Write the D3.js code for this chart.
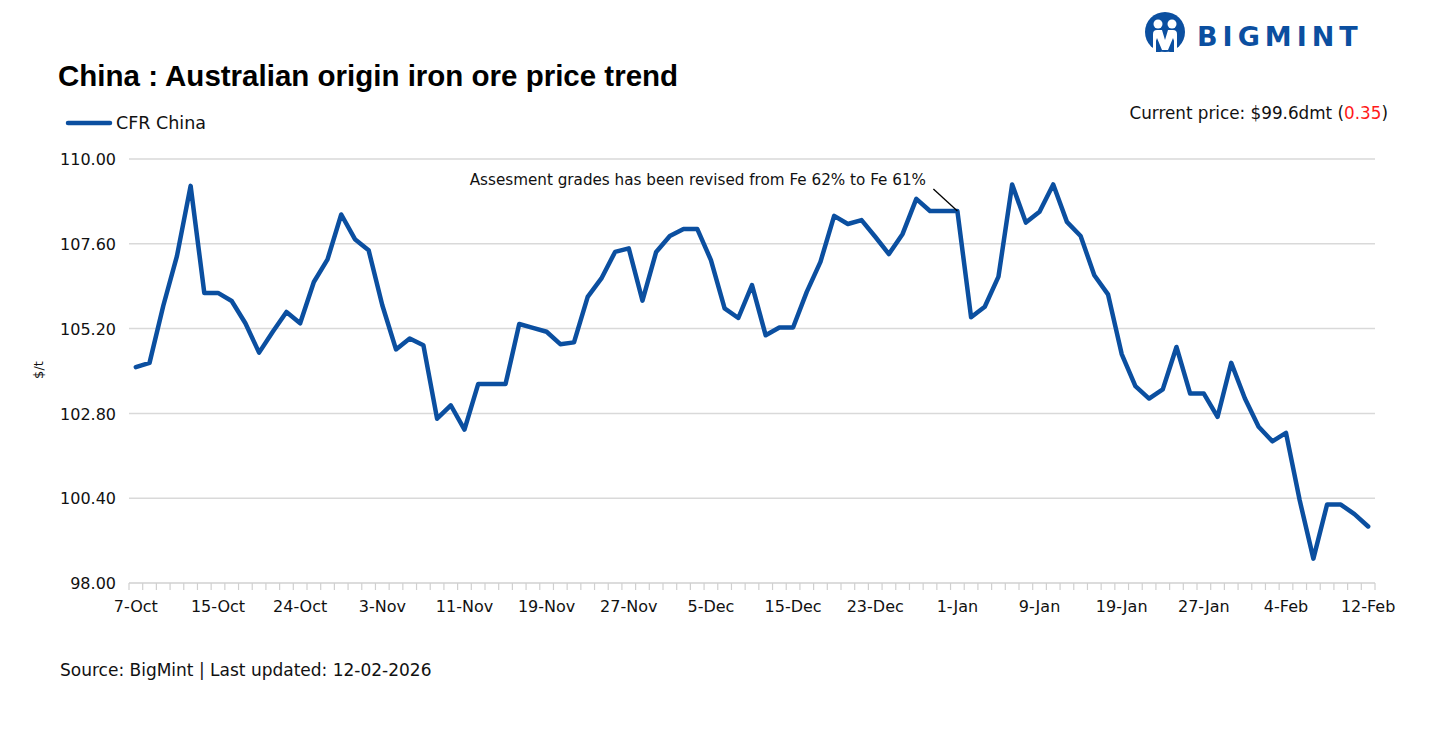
<!DOCTYPE html>
<html>
<head>
<meta charset="utf-8">
<script src="https://cdn.jsdelivr.net/npm/d3@7"></script>
<style>
  body { margin: 0; background: #fff; }
  svg { font-family: "DejaVu Sans", sans-serif; }
</style>
</head>
<body>
<svg id="svg" width="1429" height="732"></svg>
<script>
// -- categories (trading days), labels shown every 6th
var dates = [
  "7-Oct","8-Oct","9-Oct","10-Oct","13-Oct","14-Oct","15-Oct","16-Oct","17-Oct","20-Oct","22-Oct","23-Oct","24-Oct",
  "27-Oct","28-Oct","29-Oct","30-Oct","31-Oct","3-Nov","4-Nov","5-Nov","6-Nov","7-Nov","10-Nov","11-Nov",
  "12-Nov","13-Nov","14-Nov","17-Nov","18-Nov","19-Nov","20-Nov","21-Nov","24-Nov","25-Nov","26-Nov","27-Nov",
  "28-Nov","1-Dec","2-Dec","3-Dec","4-Dec","5-Dec","8-Dec","9-Dec","10-Dec","11-Dec","12-Dec","15-Dec",
  "16-Dec","17-Dec","18-Dec","19-Dec","22-Dec","23-Dec","24-Dec","26-Dec","29-Dec","30-Dec","31-Dec","1-Jan",
  "2-Jan","5-Jan","6-Jan","7-Jan","8-Jan","9-Jan","12-Jan","13-Jan","14-Jan","15-Jan","16-Jan","19-Jan",
  "20-Jan","21-Jan","22-Jan","23-Jan","26-Jan","27-Jan","28-Jan","29-Jan","30-Jan","2-Feb","3-Feb","4-Feb",
  "5-Feb","6-Feb","9-Feb","10-Feb","11-Feb","12-Feb"
];

// -- CFR China, $/t
var cfrChina = [
  104.11,104.23,105.84,107.25,109.24,106.21,106.21,105.98,105.35,104.52,105.11,105.67,105.35,
  106.52,107.16,108.43,107.73,107.42,105.86,104.61,104.92,104.73,102.65,103.03,102.34,
  103.63,103.63,103.63,105.33,105.22,105.11,104.76,104.81,106.10,106.62,107.37,107.47,
  105.99,107.37,107.82,108.02,108.02,107.14,105.77,105.50,106.43,105.01,105.23,105.23,
  106.24,107.09,108.39,108.16,108.27,107.80,107.31,107.88,108.87,108.53,108.53,108.53,
  105.52,105.82,106.67,109.28,108.20,108.51,109.28,108.22,107.82,106.71,106.17,104.48,
  103.57,103.22,103.48,104.68,103.36,103.36,102.70,104.23,103.22,102.42,102.01,102.25,
  100.34,98.69,100.22,100.22,99.95,99.60
];

var yTicks = [98.00, 100.40, 102.80, 105.20, 107.60, 110.00];

var titleText = "China : Australian origin iron ore price trend";
var seriesName = "CFR China";
var noteText = "Assesment grades has been revised from Fe 62% to Fe 61%";
var noteDate = "1-Jan";
var currentPrice = "99.6";
var priceChange = "0.35";
var sourceText = "Source: BigMint | Last updated: 12-02-2026";

var blue = "#0b4fa0";
var svg = d3.select("svg#svg");

var x = d3.scaleBand().domain(dates).range([129, 1375]).padding(0);
var y = d3.scaleLinear().domain([98, 110]).range([583, 159]);
var cx = function(d) { return x(d) + x.bandwidth() / 2; };

// - gridlines
svg.append("g").selectAll("line").data(yTicks.slice(1)).enter()
    .append("line")
    .attr("x1", 129).attr("x2", 1375)
    .attr("y1", function(d) { return y(d); })
    .attr("y2", function(d) { return y(d); })
    .style("stroke", "#d9d9d9").style("stroke-width", 1.5);

// - y axis labels
var yAxis = svg.append("g").attr("transform", "translate(116,0)")
    .call(d3.axisLeft(y).tickValues(yTicks).tickSize(0).tickPadding(0).tickFormat(d3.format(".2f")));
yAxis.select(".domain").remove();
yAxis.selectAll("text").style("font-size", "16px").style("fill", "#111")
    .style("font-family", "'DejaVu Sans', sans-serif").attr("dy", "0.36em");

// - x axis: ticks at every band edge
var xa = svg.append("g");
xa.append("line").attr("x1", 129).attr("x2", 1375).attr("y1", 583).attr("y2", 583)
    .style("stroke", "#d0d0d0").style("stroke-width", 1.5);
xa.selectAll("line.tk").data(dates.concat(["__end"])).enter()
    .append("line").attr("class", "tk")
    .attr("x1", function(d, i) { return i < dates.length ? x(d) : 1375; })
    .attr("x2", function(d, i) { return i < dates.length ? x(d) : 1375; })
    .attr("y1", 583).attr("y2", 590)
    .style("stroke", "#d0d0d0").style("stroke-width", 1.2);
xa.selectAll("text").data(dates.filter(function(d, i) { return i % 6 === 0; })).enter()
    .append("text")
    .attr("x", cx).attr("y", 612)
    .style("text-anchor", "middle").style("font-size", "16px").style("fill", "#111")
    .text(function(d) { return d; });

// - y title
svg.append("text").attr("transform", "translate(43,370) rotate(-90)")
    .style("text-anchor", "middle").style("font-size", "13px").style("fill", "#111")
    .text("$/t");

// - the line
var line = d3.line()
    .x(function(d, i) { return cx(dates[i]); })
    .y(function(d) { return y(d); });
svg.append("path").datum(cfrChina)
    .attr("d", line)
    .style("fill", "none").style("stroke", blue).style("stroke-width", 4.5)
    .style("stroke-linejoin", "round").style("stroke-linecap", "round");

// - annotation
var ni = dates.indexOf(noteDate);
svg.append("line")
    .attr("x1", cx(noteDate) - 24).attr("y1", y(cfrChina[ni]) - 22)
    .attr("x2", cx(noteDate)).attr("y2", y(cfrChina[ni]))
    .style("stroke", "#000").style("stroke-width", 1.3);
svg.append("text").attr("x", 926).attr("y", 185)
    .style("text-anchor", "end").style("font-size", "15.2px").style("fill", "#111")
    .text(noteText);

// - title
svg.append("text").attr("x", 58).attr("y", 86)
    .style("font-family", "'Liberation Sans', Arial, sans-serif")
    .style("font-size", "29.5px").style("font-weight", "bold").style("fill", "#000")
    .text(titleText);

// - legend
svg.append("line").attr("x1", 68).attr("x2", 110).attr("y1", 123).attr("y2", 123)
    .style("stroke", blue).style("stroke-width", 4.5).style("stroke-linecap", "round");
svg.append("text").attr("x", 116).attr("y", 129)
    .style("font-size", "17.5px").style("fill", "#111").text(seriesName);

// - current price
var cp = svg.append("text").attr("x", 1388).attr("y", 119)
    .style("text-anchor", "end").style("font-size", "16.8px").style("fill", "#111");
cp.append("tspan").text("Current price: $" + currentPrice + "dmt (");
cp.append("tspan").style("fill", "#ff1a1a").text(priceChange);
cp.append("tspan").text(")");

// - source
svg.append("text").attr("x", 60).attr("y", 676)
    .style("font-size", "17px").style("fill", "#111").text(sourceText);

// - logo
var logo = svg.append("g").attr("transform", "translate(1165,32)");
logo.append("circle").attr("r", 20).style("fill", blue);
logo.append("circle").attr("cx", -7).attr("cy", -8).attr("r", 4.5).style("fill", "#fff");
logo.append("circle").attr("cx", 7).attr("cy", -8).attr("r", 4.5).style("fill", "#fff");
logo.append("path")
    .attr("d", "M-12,20 L-12,2 Q-12,-2 -8,-2 L-3,-2 L0,8 L3,-2 L8,-2 Q12,-2 12,2 L12,20 L8,20 L8,6 L3,18 L-3,18 L-8,6 L-8,20 Z")
    .style("fill", "#fff");
logo.append("path")
    .attr("d", "M-9,6 L-4,20 L-9,20 Z M9,6 L4,20 L9,20 Z")
    .style("fill", blue);
svg.append("text").attr("x", 1197).attr("y", 46)
    .style("font-family", "'DejaVu Sans', sans-serif").style("font-weight", "bold")
    .style("font-size", "27px").style("letter-spacing", "5px").style("fill", blue)
    .text("BIGMINT");
</script>
</body>
</html>
